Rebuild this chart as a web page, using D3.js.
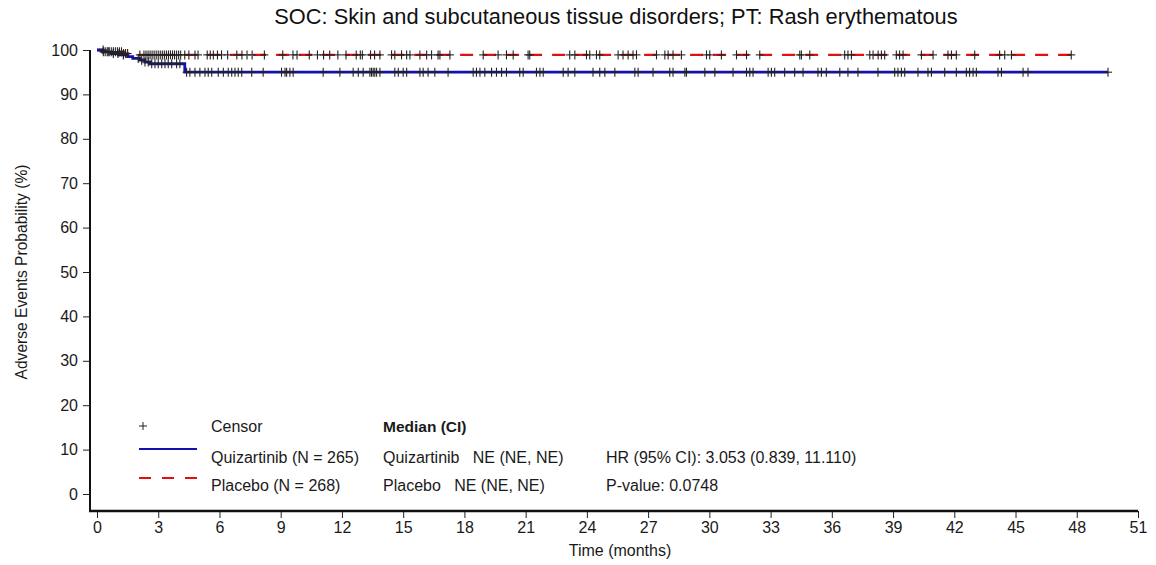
<!DOCTYPE html>
<html>
<head>
<meta charset="utf-8">
<script src="https://cdn.jsdelivr.net/npm/d3@7"></script>
<style>
  html, body { margin: 0; padding: 0; background: #fff; }
  svg { display: block; font-family: "Liberation Sans", Arial, sans-serif; }
</style>
</head>
<body>
<svg id="chart" width="1156" height="565"></svg>
<script>
// ---------------- DATA ----------------
const titleText = "SOC: Skin and subcutaneous tissue disorders; PT: Rash erythematous";
const xLabel = "Time (months)";
const yLabel = "Adverse Events Probability (%)";
const xTicks = [0, 3, 6, 9, 12, 15, 18, 21, 24, 27, 30, 33, 36, 39, 42, 45, 48, 51];
const yTicks = [0, 10, 20, 30, 40, 50, 60, 70, 80, 90, 100];

const seriesNames = ["Quizartinib", "Placebo"];
const seriesN = [265, 268];
const seriesMedian = ["NE (NE, NE)", "NE (NE, NE)"];
const hrText = "HR (95% CI): 3.053 (0.839, 11.110)";
const pText = "P-value: 0.0748";

// Kaplan-Meier step points (time in months, probability %)
const quizStepTime = [0, 0.25, 0.7, 1.05, 1.5, 1.75, 2.1, 2.35, 2.6, 4.3, 49.53];
const quizStepProb = [100, 99.6, 99.2, 98.9, 98.5, 98.1, 97.7, 97.3, 96.9, 95.0, 95.0];
const placStepTime = [0, 0.35, 1.3, 1.9, 47.73];
const placStepProb = [100, 99.6, 99.2, 98.9, 98.9];

// Censor times (months)
const quizCensor = [0.31, 0.55, 0.8, 1.03, 1.29, 2.02, 2.19, 2.35, 2.51, 2.68, 2.84, 3.0, 3.17, 3.33, 3.49, 3.66, 3.9, 4.06,
  4.39, 4.55, 4.8, 5.04, 5.29, 5.45, 5.62, 5.94, 6.19, 6.43, 6.6, 6.76, 6.92, 7.09, 7.58, 8.14, 9.04, 9.21, 9.29, 9.45, 9.61,
  11.08, 11.9, 12.55, 12.8, 13.04, 13.37, 13.53, 13.7, 13.45, 13.61, 13.86, 14.59, 14.76, 15.0, 15.17, 15.82, 15.98, 16.22,
  16.55, 17.2, 18.43, 18.59, 18.76, 19.0, 19.33, 19.57, 19.82, 20.06, 20.71, 20.88, 21.53, 21.7, 21.86, 22.84, 23.08, 23.41,
  24.3, 24.63, 24.88, 25.37, 26.35, 26.51, 27.24, 28.06, 28.22, 28.8, 28.88, 29.78, 30.27, 31.16, 31.82, 31.98, 32.14,
  32.88, 33.04, 33.2, 33.69, 34.18, 34.59, 35.32, 35.49, 35.73, 36.39, 36.79, 37.28, 38.26, 39.08, 39.24, 39.41, 39.57,
  40.22, 40.71, 40.88, 41.53, 42.1, 42.59, 42.75, 42.92, 43.08, 44.14, 44.31, 45.37, 45.61, 49.53];
const placCensor = [0.3, 0.4, 0.5, 0.6, 0.7, 0.8, 0.9, 1.0, 1.1, 1.2, 1.3, 1.4, 1.5, 2.1, 2.3, 2.4, 2.5, 2.6, 2.7, 2.8, 2.9,
  3.0, 3.1, 3.2, 3.3, 3.4, 3.5, 3.6, 3.7, 3.8, 3.9, 4.0, 4.1, 4.3, 4.5, 4.8, 4.95, 5.4, 5.55, 5.7, 5.9, 6.1, 6.4, 6.85, 7.1,
  7.35, 7.6, 8.2, 9.1, 9.6, 9.8, 10.4, 10.8, 11.1, 11.4, 11.8, 12.2, 12.7, 12.9, 13.0, 13.4, 13.6, 13.86, 14.43, 14.59,
  14.92, 15.17, 15.33, 15.82, 16.15, 16.39, 16.71, 16.8, 17.29, 18.92, 19.65, 20.06, 20.39, 21.12, 21.2, 23.16, 23.41,
  23.98, 24.14, 24.47, 24.63, 25.53, 25.77, 26.02, 26.26, 26.43, 27.41, 27.82, 27.98, 28.22, 28.63, 29.86, 30.02, 30.59,
  31.33, 31.82, 32.47, 34.43, 34.51, 34.92, 36.63, 36.79, 36.96, 37.86, 38.02, 38.27, 38.43, 38.59, 39.16, 39.32, 39.49,
  40.39, 40.96, 41.69, 41.86, 42.1, 43.0, 44.22, 44.47, 44.8, 47.73];

// ---------------- DRAW ----------------
const svg = d3.select("#chart");
const x = d3.scaleLinear().domain([0, 51]).range([97, 1138]);
const y = d3.scaleLinear().domain([0, 100]).range([494, 50]);
const axisX = 90, axisY = 511;
const textColor = "#1a1a1a";
const FS = 16;

// Title
svg.append("text").attr("x", 616).attr("y", 24).attr("text-anchor", "middle")
  .attr("font-size", 21.8).attr("fill", "#111").text(titleText);

// Y axis
const gy = svg.append("g").attr("transform", `translate(${axisX},0)`)
  .call(d3.axisLeft(y).tickValues(yTicks).tickSize(7).tickPadding(5));
gy.select(".domain").remove();
gy.selectAll(".tick line").attr("stroke", "#222");
gy.selectAll(".tick text").attr("font-size", FS).attr("fill", textColor).attr("font-family", "Liberation Sans, Arial, sans-serif");

// X axis
const gx = svg.append("g").attr("transform", `translate(0,${axisY})`)
  .call(d3.axisBottom(x).tickValues(xTicks).tickSize(7).tickPadding(4));
gx.select(".domain").remove();
gx.selectAll(".tick line").attr("stroke", "#222");
gx.selectAll(".tick text").attr("font-size", FS).attr("fill", textColor).attr("font-family", "Liberation Sans, Arial, sans-serif");

// axis lines
svg.append("line").attr("x1", axisX).attr("x2", axisX).attr("y1", y(100)).attr("y2", axisY + 1)
  .attr("stroke", "#111").attr("stroke-width", 2);
svg.append("line").attr("x1", axisX - 1).attr("x2", x(51)).attr("y1", axisY).attr("y2", axisY)
  .attr("stroke", "#111").attr("stroke-width", 2.4);

// Axis labels
svg.append("text").attr("x", 620).attr("y", 556).attr("text-anchor", "middle")
  .attr("font-size", FS).attr("fill", textColor).text(xLabel);
svg.append("text").attr("transform", `translate(27,${(y(100) + y(0)) / 2}) rotate(-90)`)
  .attr("text-anchor", "middle").attr("font-size", 15.6).attr("fill", textColor).text(yLabel);

// Curves
const line = d3.line().x(d => x(d[0])).y(d => y(d[1])).curve(d3.curveStepAfter);
const placPts = placStepTime.map((t, i) => [t, placStepProb[i]]);
const quizPts = quizStepTime.map((t, i) => [t, quizStepProb[i]]);

function probAt(times, probs, t) {
  let p = probs[0];
  for (let i = 0; i < times.length; i++) { if (times[i] <= t) p = probs[i]; }
  return p;
}

svg.append("path").datum(placPts).attr("d", line).attr("fill", "none")
  .attr("stroke", "#e01010").attr("stroke-width", 2.4).attr("stroke-dasharray", "13,10");
svg.append("path").datum(quizPts).attr("d", line).attr("fill", "none")
  .attr("stroke", "#1212b0").attr("stroke-width", 2.8);

function drawCensors(times, stepT, stepP) {
  const g = svg.append("g").attr("stroke", "#222").attr("stroke-width", 1.1);
  times.forEach(t => {
    const cx = x(t), cy = y(probAt(stepT, stepP, t));
    g.append("line").attr("x1", cx).attr("x2", cx).attr("y1", cy - 4.5).attr("y2", cy + 4.5);
    g.append("line").attr("x1", cx - 4).attr("x2", cx + 4).attr("y1", cy).attr("y2", cy);
  });
}
drawCensors(placCensor, placStepTime, placStepProb);
drawCensors(quizCensor, quizStepTime, quizStepProb);

// Legend
const lg = svg.append("g").attr("font-size", FS).attr("fill", textColor);
lg.append("line").attr("x1", 143).attr("x2", 143).attr("y1", 422).attr("y2", 430).attr("stroke", "#222");
lg.append("line").attr("x1", 139).attr("x2", 147).attr("y1", 426).attr("y2", 426).attr("stroke", "#222");
lg.append("text").attr("x", 211).attr("y", 432).text("Censor");
lg.append("text").attr("x", 383).attr("y", 432).attr("font-weight", "bold").attr("font-size", 15.5).text("Median (CI)");

lg.append("line").attr("x1", 139).attr("x2", 197).attr("y1", 449).attr("y2", 449)
  .attr("stroke", "#1212b0").attr("stroke-width", 2);
lg.append("text").attr("x", 211).attr("y", 463).text(`${seriesNames[0]} (N = ${seriesN[0]})`);
lg.append("text").attr("x", 383).attr("y", 463).attr("xml:space", "preserve").text(`${seriesNames[0]}   ${seriesMedian[0]}`);
lg.append("text").attr("x", 606).attr("y", 463).text(hrText);

lg.append("line").attr("x1", 139).attr("x2", 197).attr("y1", 478).attr("y2", 478)
  .attr("stroke", "#e01010").attr("stroke-width", 2).attr("stroke-dasharray", "12,11");
lg.append("text").attr("x", 211).attr("y", 491).text(`${seriesNames[1]} (N = ${seriesN[1]})`);
lg.append("text").attr("x", 383).attr("y", 491).attr("xml:space", "preserve").text(`${seriesNames[1]}   ${seriesMedian[1]}`);
lg.append("text").attr("x", 606).attr("y", 491).text(pText);
</script>
</body>
</html>
